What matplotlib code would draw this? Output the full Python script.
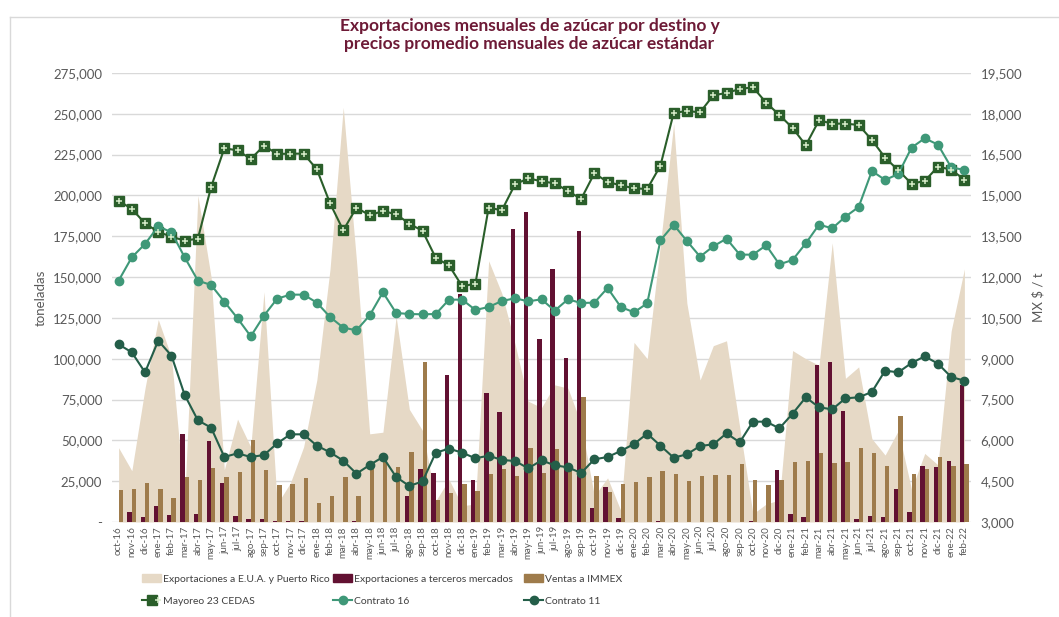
import numpy as np
import matplotlib.pyplot as plt
from matplotlib.lines import Line2D
from matplotlib.patches import Patch
from matplotlib.legend_handler import HandlerTuple
from matplotlib.ticker import FuncFormatter

plt.rcParams['font.family'] = ['Lato', 'DejaVu Sans']

meses = ['oct-16', 'nov-16', 'dic-16',
         'ene-17', 'feb-17', 'mar-17', 'abr-17', 'may-17', 'jun-17', 'jul-17', 'ago-17', 'sep-17', 'oct-17', 'nov-17', 'dic-17',
         'ene-18', 'feb-18', 'mar-18', 'abr-18', 'may-18', 'jun-18', 'jul-18', 'ago-18', 'sep-18', 'oct-18', 'nov-18', 'dic-18',
         'ene-19', 'feb-19', 'mar-19', 'abr-19', 'may-19', 'jun-19', 'jul-19', 'ago-19', 'sep-19', 'oct-19', 'nov-19', 'dic-19',
         'ene-20', 'feb-20', 'mar-20', 'abr-20', 'may-20', 'jun-20', 'jul-20', 'ago-20', 'sep-20', 'oct-20', 'nov-20', 'dic-20',
         'ene-21', 'feb-21', 'mar-21', 'abr-21', 'may-21', 'jun-21', 'jul-21', 'ago-21', 'sep-21', 'oct-21', 'nov-21', 'dic-21',
         'ene-22', 'feb-22']

# toneladas
eua = [45500, 31400, 82000, 124000, 101000, 13000, 200000, 150000, 32000, 63000,
       46000, 141000, 11000, 24000, 46000, 87000, 155000, 254000, 160000, 54000,
       55000, 126000, 69000, 56000, 13000, 26000, 10000, 11000, 160000, 140000,
       109000, 74000, 70000, 84000, 82000, 60000, 16000, 27000, 7000, 110000,
       100000, 170000, 244000, 134000, 87000, 108000, 111000, 58000, 5000, 11000,
       13500, 105000, 100000, 96000, 171000, 88000, 95000, 51000, 41000, 56000,
       20000, 42000, 35000, 117000, 155000]

terceros = [0, 6300, 2900, 10000, 4300, 53700, 5100, 49400, 23900, 3500,
            2000, 1800, 400, 600, 400, 200, 0, 0, 600, 200,
            200, 200, 16100, 32300, 30000, 90300, 139500, 25700, 79200, 67600,
            179300, 190100, 112300, 154800, 100700, 178300, 8600, 21400, 2500, 300,
            300, 500, 200, 0, 300, 300, 0, 0, 600, 0,
            31900, 5100, 3300, 96000, 98000, 68200, 2000, 3700, 2900, 20200,
            5900, 34500, 33900, 37400, 84100]

immex = [19600, 20000, 23900, 20000, 14900, 27800, 25500, 33100, 27400, 30600,
         50200, 32100, 22700, 23300, 26700, 11800, 15900, 27400, 15900, 32700,
         41700, 33700, 43100, 97800, 13500, 18000, 23100, 18800, 29400, 32500,
         28200, 45500, 30000, 44900, 35500, 76600, 28200, 18400, 23300, 24700,
         27600, 31000, 29200, 25300, 28400, 28800, 28800, 35700, 25900, 22900,
         25700, 37000, 37400, 42300, 36100, 37000, 45500, 42500, 34500, 64700,
         29200, 32300, 39800, 34500, 35300]

# MX $ / t
mayoreo = [14809, 14503, 13976, 13658, 13486, 13339, 13413, 15311, 16732, 16659,
           16340, 16830, 16524, 16536, 16536, 15960, 14711, 13719, 14552, 14270,
           14429, 14307, 13964, 13694, 12702, 12433, 11661, 11759, 14552, 14454,
           15409, 15630, 15520, 15446, 15164, 14870, 15814, 15495, 15373, 15262,
           15238, 16095, 18031, 18104, 18055, 18680, 18766, 18913, 18974, 18411,
           17957, 17480, 16843, 17761, 17639, 17639, 17590, 17039, 16389, 15924,
           15434, 15532, 16059, 15948, 15581]

contrato16 = [11869, 12727, 13217, 13866, 13645, 12727, 11869, 11710, 11097, 10485,
              9823, 10583, 11208, 11355, 11355, 11061, 10534, 10142, 10044, 10595,
              11440, 10681, 10644, 10632, 10644, 11171, 11171, 10791, 10901, 11122,
              11220, 11110, 11183, 10767, 11183, 11048, 11061, 11600, 10901, 10705,
              11036, 13351, 13927, 13327, 12751, 13131, 13413, 12825, 12825, 13168,
              12469, 12629, 13241, 13927, 13792, 14221, 14576, 15899, 15569, 15789,
              16757, 17100, 16867, 16034, 15936]

contrato11 = [9529, 9235, 8500, 9664, 9113, 7667, 6736, 6467, 5389, 5524,
              5389, 5462, 5891, 6222, 6222, 5805, 5560, 5254, 4776, 5095,
              5389, 4654, 4323, 4494, 5548, 5695, 5548, 5340, 5438, 5279,
              5242, 4972, 5266, 5083, 5009, 4801, 5303, 5389, 5609, 5867,
              6246, 5805, 5364, 5487, 5793, 5854, 6258, 5928, 6687, 6687,
              6442, 6981, 7582, 7214, 7141, 7545, 7582, 7778, 8562, 8500,
              8843, 9088, 8819, 8329, 8194]

c_area = '#e6d9c6'
c_terc = '#621132'
c_immex = '#9e7b4b'
c_may = '#2a5e2a'
c_cruz = '#d6ecc8'
c_c16 = '#3f9878'
c_c11 = '#245e49'
gris = '#595959'

x = np.arange(len(meses))

fig = plt.figure(figsize=(10.59, 6.17), dpi=100)
ax = fig.add_axes([112 / 1059, 1 - 522 / 617, (971 - 112) / 1059, (522 - 73) / 617])
ax2 = ax.twinx()

ax.fill_between(x, 0, eua, color=c_area, lw=0, zorder=2)
w = 0.33
ax.bar(x - w / 2, terceros, width=w, color=c_terc, zorder=3)
ax.bar(x + w / 2, immex, width=w, color=c_immex, zorder=3)

ax.set_xlim(-0.5, len(meses) - 0.5)
ax.set_ylim(0, 275000)
ax.set_yticks(np.arange(0, 275001, 25000))
ax.yaxis.set_major_formatter(FuncFormatter(lambda v, p: '-' if v == 0 else f'{v:,.0f}'))
ax.grid(axis='y', color='#d9d9d9', lw=1, zorder=0)
ax.set_axisbelow(True)
ax.set_xticks(x)
ax.set_xticklabels(meses, rotation=90, fontsize=7, color=gris)
ax.tick_params(axis='x', length=0, pad=3)
ax.tick_params(axis='y', length=0, labelsize=9.5, labelcolor=gris, pad=7)
ax.set_ylabel('toneladas', fontsize=9.5, color=gris, labelpad=5)

ax2.plot(x, mayoreo, color=c_may, lw=1.5, marker='s', ms=6.5, mfc=c_may, mec=c_may, zorder=5)
ax2.plot(x, mayoreo, ls='none', marker='+', ms=5, mew=1.1, color=c_cruz, zorder=6)
ax2.plot(x, contrato16, color=c_c16, lw=1.5, marker='o', ms=6, zorder=5)
ax2.plot(x, contrato11, color=c_c11, lw=1.5, marker='o', ms=6, zorder=5)
ax2.set_ylim(3000, 19500)
ax2.set_yticks(np.arange(3000, 19501, 1500))
ax2.yaxis.set_major_formatter(FuncFormatter(lambda v, p: f'{v:,.0f}'))
ax2.tick_params(axis='y', length=0, labelsize=9.5, labelcolor=gris, pad=7)
ax2.set_ylabel('MX $ / t', fontsize=9.5, color=gris, labelpad=7)

for a in (ax, ax2):
    for s in a.spines.values():
        s.set_visible(False)

fig.suptitle('Exportaciones mensuales de azúcar por destino y\nprecios promedio mensuales de azúcar estándar',
             x=0.5, y=0.971, fontsize=12.5, fontweight='bold', color='#6d1a36', linespacing=1.2)

# marco
fig.add_artist(Line2D([10 / 1059, 1], [1 - 17 / 617] * 2, color='#d9d9d9', lw=1))
fig.add_artist(Line2D([10 / 1059] * 2, [0, 1 - 17 / 617], color='#d9d9d9', lw=1))

h_may = (Line2D([], [], color=c_may, lw=1.5),
         Line2D([], [], ls='none', marker='s', ms=6.5, color=c_may),
         Line2D([], [], ls='none', marker='+', ms=5, mew=1.1, color=c_cruz))
columnas = [
    ([Patch(color=c_area), h_may], ['Exportaciones a E.U.A. y Puerto Rico', 'Mayoreo 23 CEDAS'], 142),
    ([Patch(color=c_terc), Line2D([], [], color=c_c16, lw=1.5, marker='o', ms=6)],
     ['Exportaciones a terceros mercados', 'Contrato 16'], 333),
    ([Patch(color=c_immex), Line2D([], [], color=c_c11, lw=1.5, marker='o', ms=6)],
     ['Ventas a IMMEX', 'Contrato 11'], 524),
]
for hs, ns, x0 in columnas:
    fig.legend(hs, ns, loc='upper left', bbox_to_anchor=(x0 / 1059, 1 - 574 / 617),
               frameon=False, fontsize=7.5, handlelength=1.85, handleheight=0.8, handletextpad=0.15,
               labelspacing=1.2, borderaxespad=0, borderpad=0,
               labelcolor='#404040', handler_map={tuple: HandlerTuple(ndivide=None)})

fig.savefig('out.png', dpi=100)
